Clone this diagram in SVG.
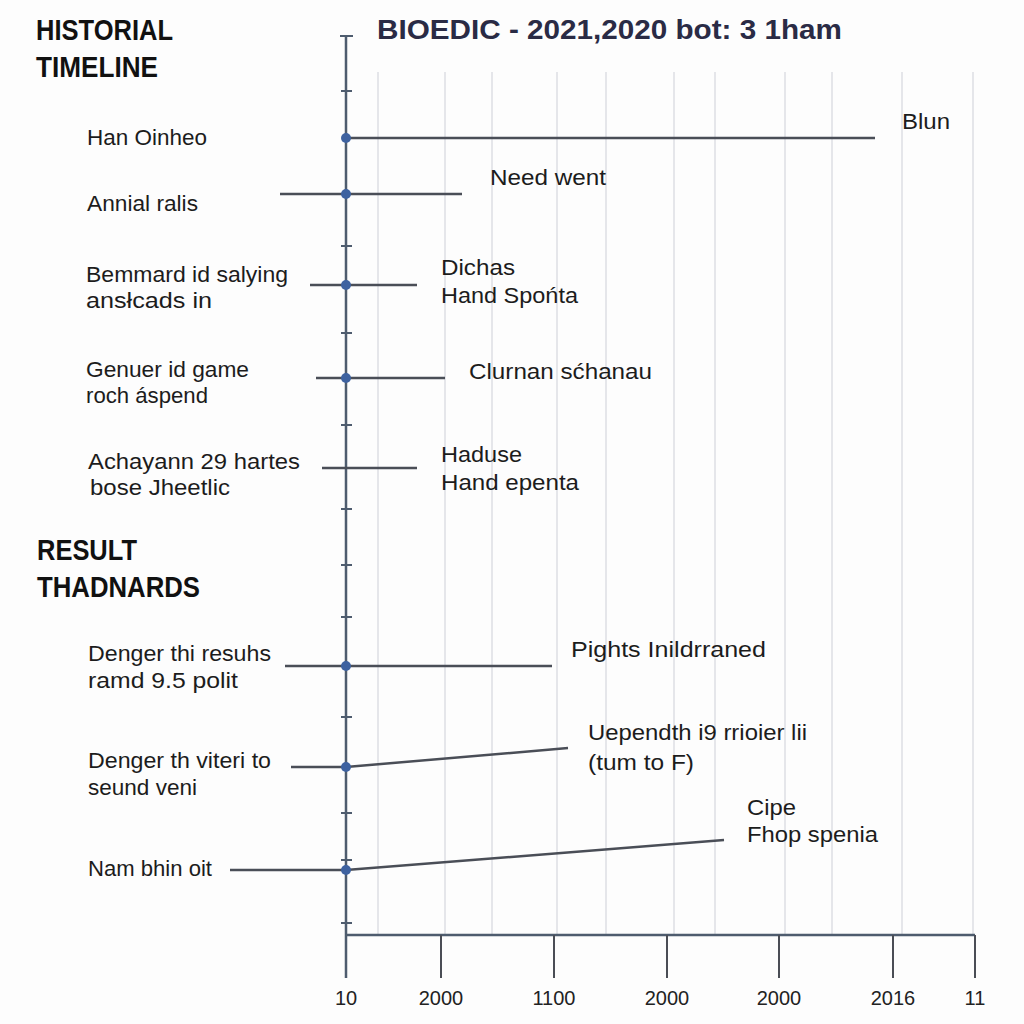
<svg xmlns="http://www.w3.org/2000/svg" width="1024" height="1024" viewBox="0 0 1024 1024">
<defs>
<style>
.bg{fill:#fdfdfd}
.grid line{stroke:#e5e6ea;stroke-width:2}
.axis{stroke:#4e5c6e;stroke-width:2.5;fill:none}
.tick{stroke:#4e5c6e;stroke-width:2}
.btick{stroke:#4a4d55;stroke-width:2}
.conn line{stroke:#4a4e57;stroke-width:2.5}
.dot{fill:#3e62a0}
.h{font-family:"Liberation Sans",Arial,sans-serif;font-weight:bold;fill:#111;font-size:30px}
.title{font-family:"Liberation Sans",Arial,sans-serif;font-weight:bold;fill:#2a2b45;font-size:28px}
.lbl{font-family:"Liberation Sans",Arial,sans-serif;fill:#1c1c1c;font-size:22px}
.ax{font-family:"Liberation Sans",Arial,sans-serif;fill:#222;font-size:20px;text-anchor:middle}
</style>
</defs>
<rect class="bg" x="0" y="0" width="1024" height="1024"/>

<g id="grid" class="grid">
<line x1="378" y1="72" x2="378" y2="935"/>
<line x1="445" y1="72" x2="445" y2="935"/>
<line x1="492" y1="72" x2="492" y2="935"/>
<line x1="557" y1="72" x2="557" y2="935"/>
<line x1="606" y1="72" x2="606" y2="935"/>
<line x1="674" y1="72" x2="674" y2="935"/>
<line x1="715" y1="72" x2="715" y2="935"/>
<line x1="785" y1="72" x2="785" y2="935"/>
<line x1="832" y1="72" x2="832" y2="935"/>
<line x1="902" y1="72" x2="902" y2="935"/>
<line x1="973" y1="72" x2="973" y2="935"/>
</g>

<g id="headings">
<text class="h" x="36" y="40" textLength="137" lengthAdjust="spacingAndGlyphs">HISTORIAL</text>
<text class="h" x="36" y="77" textLength="122" lengthAdjust="spacingAndGlyphs">TIMELINE</text>
<text class="title" x="377" y="39" textLength="465" lengthAdjust="spacingAndGlyphs">BIOEDIC - 2021,2020 bot: 3 1ham</text>
<text class="h" x="37" y="560" textLength="100" lengthAdjust="spacingAndGlyphs">RESULT</text>
<text class="h" x="37" y="597" textLength="163" lengthAdjust="spacingAndGlyphs">THADNARDS</text>
</g>

<g id="axes">
<line class="axis" x1="346" y1="36" x2="346" y2="978"/>
<line class="axis" x1="346" y1="935" x2="975" y2="935"/>
<line class="tick" x1="340" y1="36" x2="353" y2="36"/>
<line class="tick" x1="341" y1="91" x2="352" y2="91"/>
<line class="tick" x1="341" y1="246" x2="352" y2="246"/>
<line class="tick" x1="341" y1="333" x2="352" y2="333"/>
<line class="tick" x1="341" y1="425" x2="352" y2="425"/>
<line class="tick" x1="341" y1="509" x2="352" y2="509"/>
<line class="tick" x1="341" y1="565" x2="352" y2="565"/>
<line class="tick" x1="341" y1="617" x2="352" y2="617"/>
<line class="tick" x1="341" y1="717" x2="352" y2="717"/>
<line class="tick" x1="341" y1="813" x2="352" y2="813"/>
<line class="tick" x1="341" y1="860" x2="352" y2="860"/>
<line class="tick" x1="341" y1="923" x2="352" y2="923"/>
<line class="btick" x1="441" y1="935" x2="441" y2="978"/>
<line class="btick" x1="554" y1="935" x2="554" y2="978"/>
<line class="btick" x1="667" y1="935" x2="667" y2="978"/>
<line class="btick" x1="779" y1="935" x2="779" y2="978"/>
<line class="btick" x1="893" y1="935" x2="893" y2="978"/>
<line class="btick" x1="975" y1="935" x2="975" y2="978"/>
<text class="ax" x="346" y="1005">10</text>
<text class="ax" x="441" y="1005">2000</text>
<text class="ax" x="554" y="1005">1100</text>
<text class="ax" x="667" y="1005">2000</text>
<text class="ax" x="779" y="1005">2000</text>
<text class="ax" x="893" y="1005">2016</text>
<text class="ax" x="975" y="1005">11</text>
</g>

<g id="connectors" class="conn">
<line x1="346" y1="138" x2="875" y2="138"/>
<line x1="280" y1="194" x2="462" y2="194"/>
<line x1="310" y1="285" x2="417" y2="285"/>
<line x1="316" y1="378" x2="445" y2="378"/>
<line x1="322" y1="468" x2="417" y2="468"/>
<line x1="285" y1="666" x2="552" y2="666"/>
<line x1="291" y1="767" x2="346" y2="767"/>
<line x1="346" y1="767" x2="568" y2="748"/>
<line x1="230" y1="870" x2="346" y2="870"/>
<line x1="346" y1="870" x2="724" y2="840"/>
</g>

<g id="node-1">
<circle class="dot" cx="346" cy="138" r="5"/>
<text class="lbl" x="87" y="145" textLength="120" lengthAdjust="spacingAndGlyphs">Han Oinheo</text>
<text class="lbl" x="902" y="129" font-size="24" textLength="48" lengthAdjust="spacingAndGlyphs">Blun</text>
</g>
<g id="node-2">
<circle class="dot" cx="346" cy="194" r="5"/>
<text class="lbl" x="87" y="211" textLength="111" lengthAdjust="spacingAndGlyphs">Annial ralis</text>
<text class="lbl" x="490" y="185" textLength="116" lengthAdjust="spacingAndGlyphs">Need went</text>
</g>
<g id="node-3">
<circle class="dot" cx="346" cy="285" r="5"/>
<text class="lbl" x="86" y="282" textLength="202" lengthAdjust="spacingAndGlyphs">Bemmard id salying</text>
<text class="lbl" x="86" y="308" textLength="126" lengthAdjust="spacingAndGlyphs">ansłcads in</text>
<text class="lbl" x="441" y="275" textLength="74" lengthAdjust="spacingAndGlyphs">Dichas</text>
<text class="lbl" x="441" y="303" textLength="137" lengthAdjust="spacingAndGlyphs">Hand Spońta</text>
</g>
<g id="node-4">
<circle class="dot" cx="346" cy="378" r="5"/>
<text class="lbl" x="86" y="377" textLength="163" lengthAdjust="spacingAndGlyphs">Genuer id game</text>
<text class="lbl" x="86" y="403" textLength="122" lengthAdjust="spacingAndGlyphs">roch áspend</text>
<text class="lbl" x="469" y="379" textLength="183" lengthAdjust="spacingAndGlyphs">Clurnan sćhanau</text>
</g>
<g id="node-5">
<text class="lbl" x="88" y="469" textLength="212" lengthAdjust="spacingAndGlyphs">Achayann 29 hartes</text>
<text class="lbl" x="90" y="495" textLength="140" lengthAdjust="spacingAndGlyphs">bose Jheetlic</text>
<text class="lbl" x="441" y="462" textLength="81" lengthAdjust="spacingAndGlyphs">Haduse</text>
<text class="lbl" x="441" y="490" textLength="138" lengthAdjust="spacingAndGlyphs">Hand epenta</text>
</g>
<g id="node-6">
<circle class="dot" cx="346" cy="666" r="5"/>
<text class="lbl" x="88" y="661" textLength="183" lengthAdjust="spacingAndGlyphs">Denger thi resuhs</text>
<text class="lbl" x="88" y="688" textLength="150" lengthAdjust="spacingAndGlyphs">ramd 9.5 polit</text>
<text class="lbl" x="571" y="657" textLength="195" lengthAdjust="spacingAndGlyphs">Pights Inildrraned</text>
</g>
<g id="node-7">
<circle class="dot" cx="346" cy="767" r="5"/>
<text class="lbl" x="88" y="768" textLength="183" lengthAdjust="spacingAndGlyphs">Denger th viteri to</text>
<text class="lbl" x="88" y="795" textLength="109" lengthAdjust="spacingAndGlyphs">seund veni</text>
<text class="lbl" x="588" y="740" textLength="219" lengthAdjust="spacingAndGlyphs">Uependth i9 rrioier lii</text>
<text class="lbl" x="588" y="770" textLength="106" lengthAdjust="spacingAndGlyphs">(tum to F)</text>
</g>
<g id="node-8">
<circle class="dot" cx="346" cy="870" r="5"/>
<text class="lbl" x="88" y="876" textLength="124" lengthAdjust="spacingAndGlyphs">Nam bhin oit</text>
<text class="lbl" x="747" y="815" textLength="49" lengthAdjust="spacingAndGlyphs">Cipe</text>
<text class="lbl" x="747" y="842" textLength="131" lengthAdjust="spacingAndGlyphs">Fhop spenia</text>
</g>
</svg>
